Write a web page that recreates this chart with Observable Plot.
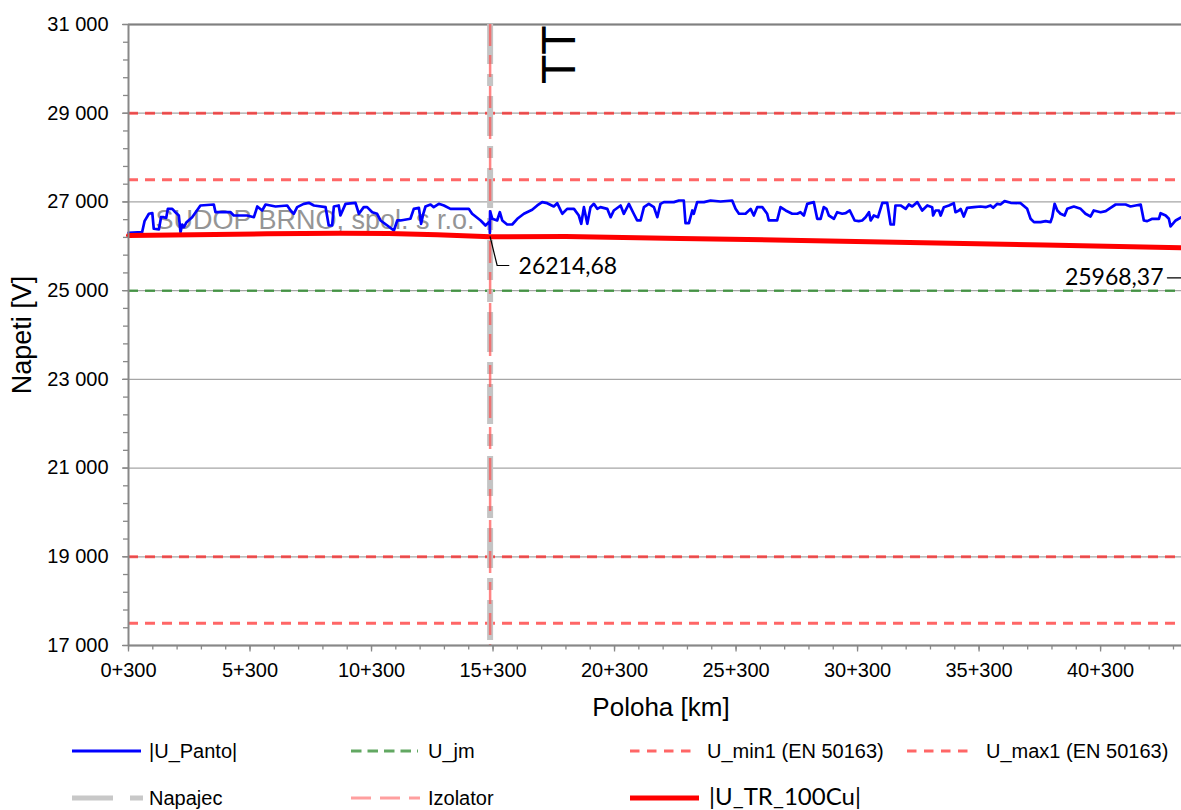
<!DOCTYPE html>
<html>
<head>
<meta charset="utf-8">
<script src="https://cdn.jsdelivr.net/npm/d3@7"></script>
<script src="https://cdn.jsdelivr.net/npm/@observablehq/plot@0.6"></script>
<style>
  html, body { margin: 0; padding: 0; background: #fff; }
  #page { position: relative; width: 1181px; height: 810px; overflow: hidden; font-family: 'Liberation Sans', Arial, sans-serif; }
  .lg { position: absolute; font-size: 20px; line-height: 22px; color: #000; white-space: nowrap; }
  .sw { position: absolute; overflow: visible; }
</style>
</head>
<body>
<div id="page"></div>
<script>
// ---------- data ----------
const xDomain = [0.3, 43.63];
const yDomain = [17000, 31000];
const yTicks = [17000, 19000, 21000, 23000, 25000, 27000, 29000, 31000];
const yTickLabels = ["17 000", "19 000", "21 000", "23 000", "25 000", "27 000", "29 000", "31 000"];
const xMajorTicks = [0.3, 5.3, 10.3, 15.3, 20.3, 25.3, 30.3, 35.3, 40.3];
const xTickLabels = ["0+300", "5+300", "10+300", "15+300", "20+300", "25+300", "30+300", "35+300", "40+300"];

// |U_Panto| [km, V]
const pantoPoints = [
[0.30,26304],[0.86,26318],[0.96,26566],[1.14,26733],[1.28,26750],[1.34,26395],[1.55,26380],[1.64,26656],[1.75,26656],[1.85,26640],
[1.92,26844],[2.10,26844],[2.23,26768],[2.37,26694],[2.44,26318],[2.51,26491],[2.58,26431],[2.69,26544],[2.92,26656],[3.26,26920],
[3.81,26942],[3.88,26768],[4.50,26768],[4.63,26694],[5.18,26694],[5.46,26656],[5.60,26897],[5.80,26807],[5.94,26942],[6.35,26897],
[6.83,26920],[6.97,26807],[7.10,26733],[7.24,26882],[7.51,26957],[7.72,26980],[7.93,26920],[8.41,26882],[8.54,26469],[8.68,26469],
[8.75,26897],[8.95,26920],[9.02,26694],[9.23,26957],[9.64,26980],[9.78,26733],[9.98,26882],[10.12,26882],[10.33,26768],[10.53,26733],
[10.67,26582],[10.95,26469],[11.22,26356],[11.36,26582],[11.49,26582],[11.90,26620],[12.04,26844],[12.25,26867],[12.34,26507],[12.43,26733],
[12.52,26897],[12.73,26942],[12.86,26882],[13.07,26957],[13.28,26920],[13.55,26844],[13.96,26844],[14.30,26844],[14.44,26733],[14.79,26582],
[14.99,26469],[15.09,26522],[15.16,26560],[15.17,26300],[15.18,26790],[15.27,26620],[15.47,26582],[15.58,26768],[15.68,26582],[15.88,26491],
[16.09,26491],[16.30,26620],[16.57,26733],[16.91,26822],[17.12,26920],[17.32,26995],[17.53,26972],[17.80,26897],[17.94,26972],[18.15,26733],
[18.35,26844],[18.63,26844],[18.83,26694],[18.93,26507],[19.04,26882],[19.18,26507],[19.31,26882],[19.45,26957],[19.59,26844],[19.72,26882],
[20.00,26844],[20.14,26656],[20.27,26807],[20.55,26920],[20.68,26733],[20.89,26957],[21.09,26733],[21.23,26582],[21.37,26582],[21.51,26882],
[21.71,26957],[21.92,26882],[22.06,26656],[22.19,26957],[22.33,26995],[22.74,26995],[22.95,27032],[23.15,27032],[23.22,26522],[23.36,26522],
[23.50,26807],[23.56,26733],[23.70,26995],[23.98,26995],[24.25,27032],[24.66,27010],[25.14,27032],[25.28,26844],[25.42,26733],[25.69,26733],
[25.90,26844],[26.03,26694],[26.17,26882],[26.38,26882],[26.58,26733],[26.65,26582],[26.99,26582],[27.13,26882],[27.34,26807],[27.61,26733],
[27.82,26733],[27.95,26768],[28.09,26694],[28.23,26957],[28.50,26995],[28.64,26620],[28.78,26620],[28.91,26882],[29.02,26844],[29.12,26694],
[29.33,26620],[29.46,26768],[29.67,26733],[29.81,26746],[29.98,26807],[30.18,26582],[30.35,26567],[30.49,26582],[30.63,26656],[30.77,26768],
[30.84,26582],[30.97,26694],[31.14,26656],[31.32,26980],[31.52,26980],[31.66,26491],[31.79,26491],[31.86,26920],[32.07,26920],[32.28,26844],
[32.41,26942],[32.55,26897],[32.76,26995],[32.96,26807],[33.17,26920],[33.37,26882],[33.41,26694],[33.51,26807],[33.65,26807],[33.72,26694],
[33.85,26882],[34.06,26920],[34.26,26972],[34.33,26768],[34.47,26807],[34.54,26844],[34.67,26672],[34.81,26867],[35.09,26882],[35.36,26897],
[35.57,26882],[35.77,26920],[35.88,26867],[36.05,26957],[36.18,26942],[36.35,27017],[36.60,26980],[37.01,26972],[37.28,26844],[37.42,26620],
[37.56,26544],[37.83,26544],[38.04,26567],[38.24,26544],[38.31,26656],[38.41,26957],[38.52,26807],[38.65,26733],[38.82,26694],[38.93,26844],
[39.20,26897],[39.48,26844],[39.68,26733],[39.89,26672],[40.02,26807],[40.30,26768],[40.51,26792],[40.71,26867],[40.92,26942],[41.33,26942],
[41.53,26897],[41.74,26920],[41.95,26942],[42.08,26582],[42.22,26567],[42.43,26620],[42.70,26620],[42.77,26746],[42.98,26694],[43.11,26620],
[43.18,26446],[43.39,26582],[43.63,26656]
];

// |U_TR_100Cu| [km, V]
const trPoints = [
[0.3,26245],[3,26262],[6,26280],[9,26292],[11,26288],[13,26258],[15.18,26214.68],[15.19,26214],
[18.3,26218],[23,26178],[28,26131],[33,26078],[38,26028],[43.63,25968.37]
];

const uMaxLevels = [29000, 27500];   // U_max1 (EN 50163)
const uMinLevels = [19000, 17500];   // U_min1 (EN 50163)
const uJmLevels = [25000];           // U_jm
const napajecKm = [15.18];
const izolatorKm = [15.18];

// annotations
const ttMarker = [{km: 18.04, v: 30320, text: "TT"}];
const watermark = [{km: 1.41, v: 26590, text: "SUDOP BRNO, spol. s r.o."}];
const label1 = [{km: 16.35, v: 25545, text: "26214,68"}];
const leader1 = [[15.18, 26214.68], [15.47, 25567], [15.95, 25567]];
const label2 = [{km: 42.89, v: 25303, text: "25968,37"}];
const leader2 = [[43.05, 25290], [43.63, 25290]];

const legendLabels = ["|U_Panto|", "U_jm", "U_min1 (EN 50163)", "U_max1 (EN 50163)", "Napajec", "Izolator", "|U_TR_100Cu|"];

// ---------- chart ----------
const panto = pantoPoints.map(([km, v]) => ({km, v}));
const tr = trPoints.map(([km, v]) => ({km, v}));
const yMinor = d3.range(17000, 31001, 400);
const xMinor = d3.range(0.3, 43.7, 1);
const labelFont = "Lato, 'Open Sans', sans-serif";

const chart = Plot.plot({
  width: 1181, height: 730,
  marginLeft: 128, marginRight: 0, marginTop: 24, marginBottom: 85,
  x: {domain: xDomain},
  y: {domain: yDomain},
  style: {fontFamily: "'Liberation Sans', Arial, sans-serif", fontSize: "20px", color: "#000", background: "#fff", overflow: "visible"},
  marks: [
    Plot.ruleY(yTicks, {stroke: "#a6a6a6", strokeWidth: 1.3}),
    Plot.ruleY([31000], {stroke: "#808080", strokeWidth: 2}),
    Plot.ruleY(uMaxLevels, {stroke: "#ff0000", strokeOpacity: 0.6, strokeWidth: 3, strokeDasharray: "10,7"}),
    Plot.ruleY(uMinLevels, {stroke: "#ff0000", strokeOpacity: 0.6, strokeWidth: 3, strokeDasharray: "10,7"}),
    Plot.ruleY(uJmLevels, {stroke: "#2e8b2e", strokeOpacity: 0.8, strokeWidth: 2.5, strokeDasharray: "10,7"}),
    Plot.ruleX(napajecKm, {stroke: "#c4c4c4", strokeWidth: 6, strokeDasharray: "40,10,12,10"}),
    Plot.ruleX(izolatorKm, {stroke: "#ff5050", strokeOpacity: 0.7, strokeWidth: 2.5, strokeDasharray: "22,9"}),
    Plot.text(watermark, {x: "km", y: "v", text: "text", textAnchor: "start", lineAnchor: "middle", fontSize: 27, fill: "#959595"}),
    Plot.line(panto, {x: "km", y: "v", stroke: "#0000ff", strokeWidth: 2.7}),
    Plot.line(tr, {x: "km", y: "v", stroke: "#ff0000", strokeWidth: 5}),
    Plot.line(leader1, {x: d => d[0], y: d => d[1], stroke: "#000", strokeWidth: 1.2}),
    Plot.line(leader2, {x: d => d[0], y: d => d[1], stroke: "#000", strokeWidth: 1.2}),
    Plot.text(label1, {x: "km", y: "v", text: "text", textAnchor: "start", lineAnchor: "middle", fontSize: 23, fontFamily: labelFont, fill: "#000"}),
    Plot.text(label2, {x: "km", y: "v", text: "text", textAnchor: "end", lineAnchor: "middle", fontSize: 23, fontFamily: labelFont, fill: "#000"}),
    Plot.text(ttMarker, {x: "km", y: "v", text: "text", rotate: -90, textAnchor: "middle", lineAnchor: "middle", fontSize: 48, fill: "#000"}),
    Plot.ruleX([xDomain[0]], {stroke: "#888", strokeWidth: 2}),
    Plot.ruleY([17000], {stroke: "#888", strokeWidth: 2}),
    Plot.axisY({ticks: yMinor, tickSize: 5, tickFormat: () => "", stroke: "#888", strokeWidth: 1.3, label: null}),
    Plot.axisY({ticks: yTicks, tickSize: 6, tickPadding: 14, tickFormat: d => yTickLabels[yTicks.indexOf(d)], stroke: "#888", fill: "#000", strokeWidth: 1.3, label: null}),
    Plot.axisX({ticks: xMinor, tickSize: 4.5, tickFormat: () => "", stroke: "#888", strokeWidth: 1.3, label: null}),
    Plot.axisX({ticks: xMajorTicks, tickSize: 6.5, tickPadding: 11, tickFormat: d => xTickLabels[xMajorTicks.indexOf(d)], stroke: "#888", fill: "#000", strokeWidth: 1.3, label: null}),
    Plot.text(["Napeti [V]"], {frameAnchor: "left", dx: -106, rotate: -90, textAnchor: "middle", lineAnchor: "middle", fontSize: 27, fill: "#000"}),
    Plot.text(["Poloha [km]"], {frameAnchor: "bottom", dy: 62, dx: 6, textAnchor: "middle", lineAnchor: "middle", fontSize: 26, fill: "#000"})
  ]
});

const page = document.getElementById("page");
chart.style.position = "absolute";
chart.style.left = "0px";
chart.style.top = "0px";
page.appendChild(chart);

// ---------- legend ----------
const NS = "http://www.w3.org/2000/svg";
function swatch(x1, x2, y, segs) {
  const svg = document.createElementNS(NS, "svg");
  svg.setAttribute("class", "sw");
  svg.setAttribute("width", x2 - x1 + 4);
  svg.setAttribute("height", 12);
  svg.style.left = (x1 - 2) + "px";
  svg.style.top = (y - 6) + "px";
  for (const s of segs) {
    const l = document.createElementNS(NS, "line");
    l.setAttribute("x1", 2); l.setAttribute("x2", x2 - x1 + 2);
    l.setAttribute("y1", 6); l.setAttribute("y2", 6);
    l.setAttribute("stroke", s.stroke);
    l.setAttribute("stroke-width", s.width);
    if (s.opacity) l.setAttribute("stroke-opacity", s.opacity);
    if (s.dash) l.setAttribute("stroke-dasharray", s.dash);
    if (s.cap) l.setAttribute("stroke-linecap", s.cap);
    svg.appendChild(l);
  }
  page.appendChild(svg);
}
function label(x, y, text, font, size) {
  const d = document.createElement("div");
  d.className = "lg";
  d.textContent = text;
  d.style.left = x + "px";
  d.style.top = (y - 11) + "px";
  if (font) d.style.fontFamily = font;
  if (size) { d.style.fontSize = size + "px"; d.style.lineHeight = "22px"; }
  page.appendChild(d);
}
const r1 = 751, r2 = 798;
swatch(72, 141, r1, [{stroke: "#0000ff", width: 3}]);
label(149, r1, legendLabels[0]);
swatch(351, 418, r1, [{stroke: "#2e8b2e", opacity: 0.75, width: 3, dash: "10.5,6"}]);
label(428, r1, legendLabels[1]);
swatch(630, 696, r1, [{stroke: "#ff0000", opacity: 0.6, width: 3, dash: "9.5,7.5"}]);
label(707, r1, legendLabels[2]);
swatch(907, 975, r1, [{stroke: "#ff0000", opacity: 0.6, width: 3, dash: "9.5,7.5"}]);
label(986, r1, legendLabels[3]);
swatch(72, 143, r2, [{stroke: "#c8c8c8", width: 5, dash: "41,17,13,100", cap: "butt"}]);
label(149, r2, legendLabels[4]);
swatch(351, 420, r2, [{stroke: "#ff5050", opacity: 0.55, width: 3, dash: "20,9"}]);
label(428, r2, legendLabels[5]);
swatch(630, 699, r2, [{stroke: "#ff0000", width: 5}]);
label(709, r2 - 2, legendLabels[6], labelFont, 24);
</script>
</body>
</html>
